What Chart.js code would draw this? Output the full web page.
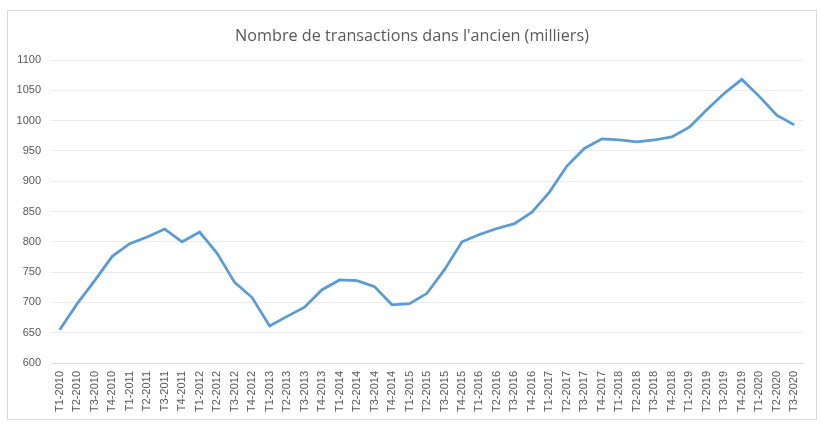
<!DOCTYPE html>
<html>
<head>
<meta charset="utf-8">
<script src="https://cdn.jsdelivr.net/npm/chart.js@4/dist/chart.umd.min.js"></script>
<style>
    html, body { margin: 0; padding: 0; background: #ffffff; }
    #wrap { position: relative; width: 822px; height: 432px; }
</style>
</head>
<body>
<div id="wrap"><canvas id="chart" width="822" height="432"></canvas></div>
<script>
// ==================== DONNÉES ====================
const chartTitle = "Nombre de transactions dans l'ancien (milliers)";

const labels = [
    "T1-2010", "T2-2010", "T3-2010", "T4-2010",
    "T1-2011", "T2-2011", "T3-2011", "T4-2011",
    "T1-2012", "T2-2012", "T3-2012", "T4-2012",
    "T1-2013", "T2-2013", "T3-2013", "T4-2013",
    "T1-2014", "T2-2014", "T3-2014", "T4-2014",
    "T1-2015", "T2-2015", "T3-2015", "T4-2015",
    "T1-2016", "T2-2016", "T3-2016", "T4-2016",
    "T1-2017", "T2-2017", "T3-2017", "T4-2017",
    "T1-2018", "T2-2018", "T3-2018", "T4-2018",
    "T1-2019", "T2-2019", "T3-2019", "T4-2019",
    "T1-2020", "T2-2020", "T3-2020"
];

const transactions = [
    655, 698, 736, 776,
    797, 808, 821, 800,
    816, 781, 733, 708,
    661, 677, 692, 721,
    737, 736, 726, 696,
    698, 715, 754, 800,
    812, 822, 830, 849,
    882, 925, 954, 970,
    968, 965, 968, 973,
    989, 1018, 1045, 1068,
    1040, 1009, 993
];

const yTicks = { min: 600, max: 1100, step: 50 };

// ==================== CADRE + TITRE ====================
// le titre est centré sur le cadre (pas sur la zone des axes), donc dessiné ici
const framePlugin = {
    id: "frame",
    beforeDraw(chart) {
        const ctx = chart.ctx;
        ctx.save();
        ctx.fillStyle = "#ffffff";
        ctx.fillRect(0, 0, chart.width, chart.height);
        ctx.strokeStyle = "#d9d9d9";
        ctx.lineWidth = 1;
        ctx.strokeRect(7.5, 10.5, 809, 409);

        ctx.fillStyle = "#595959";
        ctx.font = "16.2px 'Open Sans'";
        ctx.textAlign = "center";
        ctx.textBaseline = "alphabetic";
        ctx.fillText(chartTitle, 412, 40.5);
        ctx.restore();
    }
};

// ==================== CHART ====================
const ctx = document.getElementById("chart").getContext("2d");

new Chart(ctx, {
    type: "line",
    data: {
        labels,
        datasets: [
            {
                label: "Transactions",
                data: transactions,
                borderColor: "#5b9bd5",
                borderWidth: 2.75,
                pointRadius: 0,
                tension: 0,
                fill: false
            }
        ]
    },
    options: {
        responsive: false,
        animation: false,
        layout: {
            padding: { left: 0, top: 60, right: 19, bottom: 0 }
        },
        plugins: {
            legend: { display: false },
            tooltip: { enabled: false },
            title: { display: false }
        },
        scales: {
            x: {
                offset: true,
                afterFit: (scale) => { scale.height = 69; },
                grid: { display: false, drawTicks: false },
                border: { display: true, color: "#d9d9d9", width: 1 },
                ticks: {
                    autoSkip: false,
                    minRotation: 90,
                    maxRotation: 90,
                    padding: 8,
                    color: "#595959",
                    font: { family: "Liberation Sans", size: 11 }
                }
            },
            y: {
                min: yTicks.min,
                max: yTicks.max,
                afterFit: (scale) => { scale.width = 51; },
                grid: { color: "#ececec", drawTicks: false },
                border: { display: false },
                ticks: {
                    stepSize: yTicks.step,
                    padding: 10,
                    color: "#595959",
                    font: { family: "Liberation Sans", size: 11 },
                    callback: (value) => String(value)
                }
            }
        }
    },
    plugins: [framePlugin]
});
</script>
</body>
</html>
